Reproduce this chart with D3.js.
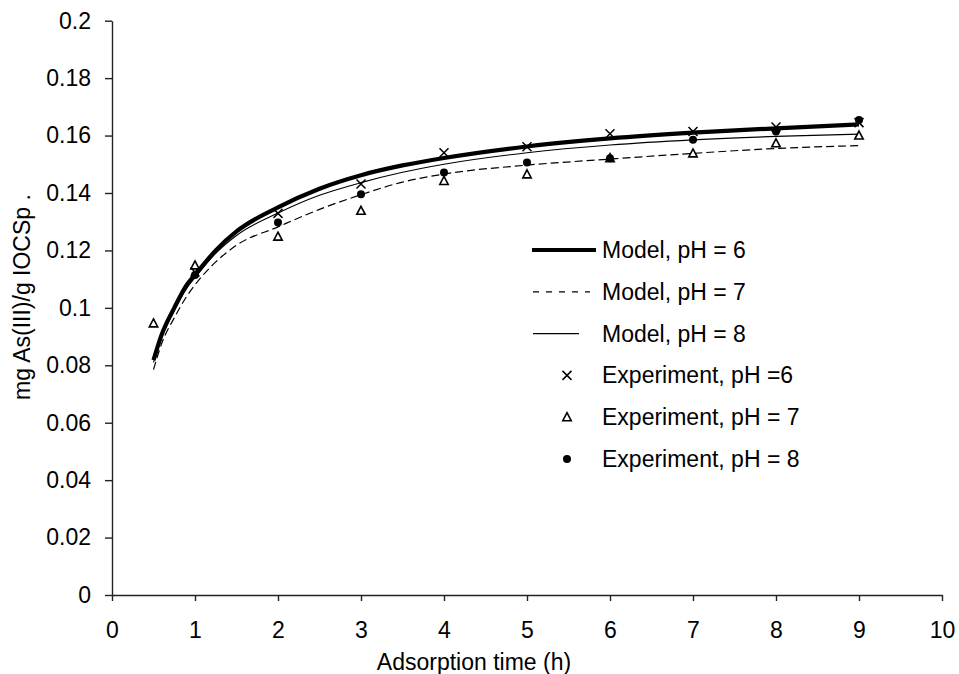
<!DOCTYPE html>
<html>
<head>
<meta charset="utf-8">
<script src="https://cdn.jsdelivr.net/npm/d3@7"></script>
<style>
  body { margin: 0; background: #fff; }
  text { font-family: "Liberation Sans", Arial, Helvetica, sans-serif; fill: #000; }
</style>
</head>
<body>
<div id="grafico"></div>
<script>
const WIDTH = 959;
const HEIGHT = 674;

// model curves
let modelT   = [0.5, 0.6, 0.75, 0.9, 1, 1.25, 1.5, 2, 2.5, 3, 3.5, 4, 5, 6, 7, 8, 9];
let modelPH6 = [0.0818, 0.0908, 0.1000, 0.1080, 0.1115, 0.1200, 0.1266, 0.1350, 0.1415, 0.1462, 0.1496, 0.1522, 0.1562, 0.1590, 0.1610, 0.1625, 0.1639];
let modelPH7 = [0.0785, 0.0877, 0.0965, 0.1040, 0.1080, 0.1160, 0.1218, 0.1282, 0.1343, 0.1394, 0.1438, 0.1466, 0.1497, 0.1518, 0.1538, 0.1555, 0.1565];
let modelPH8 = [0.0810, 0.0898, 0.0990, 0.1068, 0.1105, 0.1190, 0.1252, 0.1330, 0.1392, 0.1436, 0.1472, 0.1500, 0.1540, 0.1567, 0.1585, 0.1597, 0.1605];

// experiment points
let expT6 = [1, 2, 3, 4, 5, 6, 7, 8, 9];
let expPH6 = [0.1125, 0.1329, 0.1431, 0.1540, 0.1561, 0.1606, 0.1614, 0.1630, 0.1645];
let expT7 = [0.5, 1, 2, 3, 4, 5, 6, 7, 8, 9];
let expPH7 = [0.0946, 0.1148, 0.1248, 0.1338, 0.1442, 0.1465, 0.1521, 0.1538, 0.1573, 0.1600];
let expT8 = [1, 2, 3, 4, 5, 6, 7, 8, 9];
let expPH8 = [0.1114, 0.1297, 0.1396, 0.1471, 0.1506, 0.1521, 0.1585, 0.1614, 0.1654];

let xTicks = [0, 1, 2, 3, 4, 5, 6, 7, 8, 9, 10];
let yTicks = [0, 0.02, 0.04, 0.06, 0.08, 0.1, 0.12, 0.14, 0.16, 0.18, 0.2];
let yTickLabels = ["0", "0.02", "0.04", "0.06", "0.08", "0.1", "0.12", "0.14", "0.16", "0.18", "0.2"];

let legendLabels = ["Model, pH = 6", "Model, pH = 7", "Model, pH = 8",
                    "Experiment, pH =6", "Experiment, pH = 7", "Experiment, pH = 8"];

let svg = d3.select("#grafico")
    .append("svg")
    .attr("width", WIDTH)
    .attr("height", HEIGHT);

let x = d3.scaleLinear().domain([0, 10]).range([112, 942]);
let y = d3.scaleLinear().domain([0, 0.2]).range([595, 20.7]);

// axes
let xAxis = svg.append("g")
    .attr("transform", "translate(0," + y(0) + ")")
    .call(d3.axisBottom(x).tickValues(xTicks).tickSize(6).tickSizeOuter(0).tickFormat(d3.format("d")));
xAxis.selectAll("text")
    .attr("y", 43)
    .attr("dy", "0")
    .style("font-size", "23px");

let yAxis = svg.append("g")
    .attr("transform", "translate(" + x(0) + ",0)")
    .call(d3.axisLeft(y).tickValues(yTicks).tickSize(7).tickSizeOuter(0)
        .tickFormat((d, i) => yTickLabels[i]));
yAxis.selectAll("text")
    .attr("x", -21)
    .style("font-size", "23px");

svg.selectAll(".domain, .tick line")
    .style("stroke", "#222")
    .style("stroke-width", 1.4);
svg.selectAll(".tick text").style("font-family", "'Liberation Sans', Arial, sans-serif");

// axis titles
svg.append("text")
    .attr("x", 474)
    .attr("y", 670)
    .attr("text-anchor", "middle")
    .style("font-size", "23px")
    .text("Adsorption time (h)");

svg.append("text")
    .attr("transform", "translate(22,297) rotate(-90)")
    .attr("dy", "0.35em")
    .attr("text-anchor", "middle")
    .style("font-size", "23px")
    .text("mg As(III)/g IOCSp .");

// model lines
let line = d3.line()
    .x(d => x(d[0]))
    .y(d => y(d[1]))
    .curve(d3.curveMonotoneX);

function pairs(ts, vs) {
    return ts.map((t, i) => [t, vs[i]]);
}

svg.append("path")
    .datum(pairs(modelT, modelPH7))
    .attr("d", line)
    .style("fill", "none")
    .style("stroke", "#000")
    .style("stroke-width", 1.2)
    .style("stroke-dasharray", "8,4");

svg.append("path")
    .datum(pairs(modelT, modelPH8))
    .attr("d", line)
    .style("fill", "none")
    .style("stroke", "#000")
    .style("stroke-width", 1.1);

svg.append("path")
    .datum(pairs(modelT, modelPH6))
    .attr("d", line)
    .style("fill", "none")
    .style("stroke", "#000")
    .style("stroke-width", 4.2);

// markers
function cross(g, cx, cy) {
    g.append("path")
        .attr("d", "M" + (cx - 4.5) + "," + (cy - 4.5) + "L" + (cx + 4.5) + "," + (cy + 4.5) +
                   "M" + (cx - 4.5) + "," + (cy + 4.5) + "L" + (cx + 4.5) + "," + (cy - 4.5))
        .style("stroke", "#000")
        .style("stroke-width", 1.5);
}
function triangle(g, cx, cy) {
    g.append("path")
        .attr("d", "M" + cx + "," + (cy - 4.5) + "L" + (cx + 4.2) + "," + (cy + 3.5) +
                   "L" + (cx - 4.2) + "," + (cy + 3.5) + "Z")
        .style("fill", "#fff")
        .style("stroke", "#000")
        .style("stroke-width", 1.6);
}
function dot(g, cx, cy) {
    g.append("circle")
        .attr("cx", cx)
        .attr("cy", cy)
        .attr("r", 4)
        .style("fill", "#000");
}

let pts = svg.append("g");
expT7.forEach((t, i) => triangle(pts, x(t), y(expPH7[i])));
expT8.forEach((t, i) => dot(pts, x(t), y(expPH8[i])));
expT6.forEach((t, i) => cross(pts, x(t), y(expPH6[i])));

// legend
let legend = svg.append("g");
let rowY = i => 250 + i * 41.8;

legend.append("line")
    .attr("x1", 532).attr("x2", 596)
    .attr("y1", rowY(0)).attr("y2", rowY(0))
    .style("stroke", "#000").style("stroke-width", 4.2);
legend.append("line")
    .attr("x1", 533).attr("x2", 590)
    .attr("y1", rowY(1)).attr("y2", rowY(1))
    .style("stroke", "#000").style("stroke-width", 1.2)
    .style("stroke-dasharray", "6,7");
legend.append("line")
    .attr("x1", 533).attr("x2", 579)
    .attr("y1", rowY(2)).attr("y2", rowY(2))
    .style("stroke", "#000").style("stroke-width", 1.1);
cross(legend, 567, rowY(3));
triangle(legend, 567, rowY(4));
dot(legend, 567, rowY(5));

legend.selectAll(".lbl")
    .data(legendLabels)
    .enter()
    .append("text")
    .attr("class", "lbl")
    .attr("x", 602)
    .attr("y", (d, i) => rowY(i) + 8)
    .style("font-size", "23px")
    .text(d => d);
</script>
</body>
</html>
